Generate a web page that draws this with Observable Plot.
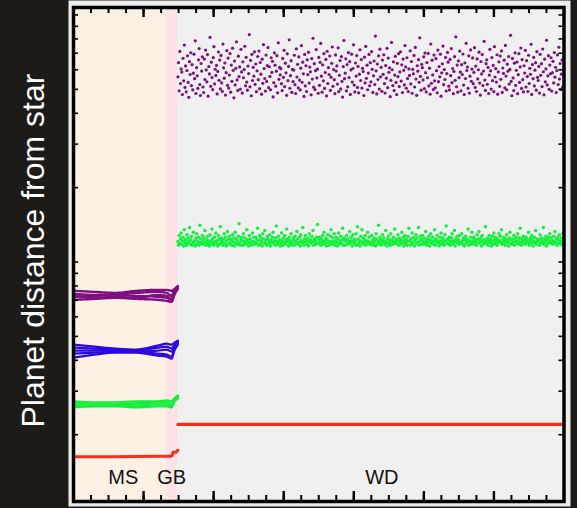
<!DOCTYPE html>
<html><head><meta charset="utf-8">
<script src="https://cdn.jsdelivr.net/npm/d3@7"></script>
<script src="https://cdn.jsdelivr.net/npm/@observablehq/plot@0.6"></script>
<style>html,body{margin:0;padding:0;background:#1e1a17;overflow:hidden;}</style>
</head><body><div id="chart"></div>
<script>
// ---- data ----
const phaseNames = ["MS", "GB", "WD"];
const phaseStarts = [0, 1.33, 1.49];
const phaseEnds = [1.33, 1.49, 7];
const labelTimes = [0.71, 1.40, 4.40];
const labelValue = 0.134;
const yTitle = "Planet distance from star";

const yTicks = [0.2,0.3,0.4,0.5,0.6,0.7,0.8,0.9,1,2,3,4,5,6,7,8,9,10];
const xMajorTicks = [0,1,2,3,4,5,6,7];

// main-sequence / giant-branch tracks (several runs per planet)
const msTimes = [0, 0.3, 0.6, 0.9, 1.2, 1.33, 1.40, 1.44, 1.49];
const msPurple = [
  [0.764,0.757,0.750,0.764,0.771,0.771,0.764,0.778,0.800],
  [0.743,0.736,0.743,0.750,0.757,0.750,0.729,0.771,0.793],
  [0.723,0.729,0.736,0.729,0.723,0.716,0.703,0.750,0.786],
  [0.703,0.709,0.716,0.709,0.703,0.696,0.690,0.736,0.778],
  [0.729,0.716,0.723,0.716,0.736,0.729,0.709,0.757,0.793]
];
const msBlue = [
  [0.4627,0.4542,0.4459,0.4417,0.4585,0.4670,0.4627,0.4714,0.4800],
  [0.4500,0.4459,0.4417,0.4377,0.4500,0.4542,0.4459,0.4627,0.4758],
  [0.4377,0.4377,0.4377,0.4336,0.4377,0.4417,0.4336,0.4542,0.4714],
  [0.4256,0.4296,0.4336,0.4336,0.4256,0.4217,0.4140,0.4459,0.4670],
  [0.4100,0.4217,0.4296,0.4296,0.4178,0.4140,0.4064,0.4377,0.4627]
];
const msGreen = [
  [0.2727,0.2702,0.2702,0.2727,0.2727,0.2752,0.2727,0.2804,0.2883],
  [0.2677,0.2677,0.2652,0.2677,0.2702,0.2702,0.2652,0.2778,0.2856],
  [0.2627,0.2627,0.2627,0.2627,0.2652,0.2652,0.2603,0.2752,0.2830],
  [0.2579,0.2603,0.2603,0.2579,0.2603,0.2603,0.2579,0.2727,0.2804]
];
const msRedTimes = [0, 0.6, 1.2, 1.38, 1.41, 1.42, 1.46, 1.49];
const msRed = [0.1628,0.1628,0.1635,0.1635,0.1650,0.1697,0.1697,0.1729];

// white-dwarf phase
const wdStart = 1.49, wdEnd = 6.99;
const wdRed = [0.22, 0.22];
const wdPurple = [
5.62,6.41,4.93,7.12,5.28,6.05,5.87,4.76,6.68,5.41,7.55,5.09,6.22,4.88,5.96,6.83,5.33,4.64,6.47,5.74,
7.03,5.18,6.29,4.97,5.81,6.94,5.52,7.86,4.81,6.12,5.67,5.04,6.58,7.31,5.23,4.72,6.36,5.93,6.77,5.11,
4.85,6.63,5.48,7.21,5.99,5.36,6.91,4.69,6.18,5.77,8.12,5.14,6.44,5.58,4.99,6.72,7.44,5.26,6.03,5.69,
6.25,4.79,5.91,7.08,5.44,6.57,5.02,6.86,5.31,4.91,7.62,6.11,5.55,6.39,4.74,5.84,7.17,5.19,6.69,5.06,
5.71,6.98,4.87,6.27,5.39,7.34,5.97,4.62,6.51,5.21,6.08,7.79,5.46,4.95,6.81,5.63,6.16,5.01,7.26,5.88,
4.83,6.46,5.57,6.01,7.47,5.17,6.74,5.35,4.96,6.21,5.79,8.33,5.12,6.55,4.71,6.93,5.43,6.14,5.66,7.09,
5.24,6.33,4.89,5.94,6.79,5.47,7.14,5.03,6.42,5.76,4.78,6.62,5.29,7.58,6.07,5.53,4.92,6.88,5.38,6.24,
7.38,5.08,6.17,5.64,4.98,6.71,5.86,6.49,4.66,5.32,7.02,6.26,5.15,5.92,6.84,4.84,7.71,5.49,6.13,5.72,
6.06,5.27,4.94,6.67,5.59,7.19,5.13,6.38,5.83,4.73,6.96,5.42,6.19,7.93,5.05,5.68,6.53,4.86,6.02,5.37,
5.98,6.87,5.22,4.81,7.29,5.61,6.31,5.07,6.76,5.45,4.97,6.09,7.51,5.34,6.44,5.78,4.68,6.92,5.16,6.23,
4.90,6.58,5.73,7.06,5.30,6.15,5.89,4.75,6.66,5.50,8.05,5.10,6.35,4.99,5.95,7.24,5.56,6.04,4.82,6.73,
5.19,6.43,7.67,5.65,4.87,6.28,5.41,6.97,5.04,5.85,6.61,4.70,7.13,5.28,6.12,5.74,6.82,4.95,5.60,6.37,
7.42,5.14,6.01,5.47,4.80,6.89,5.93,6.22,5.25,7.36,4.89,5.70,6.54,5.02,6.78,5.38,4.65,6.18,7.88,5.52,
5.81,6.65,4.93,6.30,5.12,7.04,5.58,6.47,4.77,5.99,6.94,5.35,6.07,7.57,5.20,4.88,6.39,5.66,6.85,5.09,
6.19,4.84,5.76,7.23,5.43,6.60,5.06,6.08,5.90,4.72,6.75,5.31,7.46,5.54,6.26,4.98,5.82,6.92,5.17,6.41,
5.36,7.11,6.03,4.86,5.67,6.51,5.23,8.21,5.94,4.79,6.33,5.48,6.83,5.01,7.27,5.62,6.14,4.91,6.57,5.75,
6.90,5.27,4.83,6.24,5.55,7.33,5.08,6.69,5.86,6.11,4.67,5.44,7.74,6.00,5.18,6.46,4.94,5.71,6.80,5.33,
4.76,6.37,5.63,6.97,5.13,5.88,7.09,5.40,6.28,4.85,6.63,5.97,5.21,7.52,6.16,5.05,6.71,5.53,4.90,6.05,
5.69,7.16,5.26,6.48,4.82,6.02,5.78,6.86,5.11,7.39,5.50,4.73,6.23,5.92,6.59,5.34,8.08,5.64,4.96,6.31,
6.12,5.46,6.77,5.03,7.01,5.84,4.88,6.42,5.57,6.99,5.16,6.09,4.78,7.63,5.29,6.56,5.72,4.99,6.88,5.41,
5.07,6.66,5.95,4.84,7.21,5.37,6.18,5.62,6.94,4.69,5.83,6.34,7.48,5.22,6.01,5.48,6.73,4.92,5.79,7.05,
6.44,5.15,4.97,6.61,5.68,7.31,5.32,6.07,4.80,5.91,6.78,5.44,8.16,5.12,6.27,4.87,6.52,5.58,7.14,5.87,
4.93,6.29,5.74,6.95,5.20,4.76,6.40,5.53,7.68,5.96,6.15,5.05,6.83,4.83,5.65,7.22,5.39,6.04,6.70,5.27,
5.86,7.37,5.09,6.21,4.90,6.64,5.51,6.00,7.07,5.30,4.74,6.48,5.77,6.91,5.18,5.93,7.82,5.45,4.95,6.35,
6.58,5.24,6.13,4.81,5.71,7.26,5.94,5.01,6.72,5.42,6.25,4.89,7.44,5.61,6.06,5.35,6.90,4.78,5.88,6.46,
5.14,6.82,5.49,7.15,4.86,6.10,5.80,6.56,5.07,7.53,5.66,4.98,6.32,5.92,6.79,5.25,6.02,8.27,5.38,4.71,
6.67,5.56,4.94,6.38,7.02,5.19,5.97,6.45,4.80,5.73,6.97,5.33,6.16,7.35,5.04,6.60,5.47,4.88,6.23,5.82,
7.19,5.11,6.53,5.63,4.90,6.87,5.28,6.08,5.75,7.61,4.77,6.30,5.52,6.74,5.16,5.98,6.41,4.96,7.10,5.59,
5.43,6.19,4.83,6.93,5.70,6.35,5.13,7.28,5.89,4.75,6.62,5.36,6.05,7.90,5.21,5.67,6.84,5.00,6.27,5.78,
6.71,4.92,5.84,6.49,5.31,7.04,5.60,6.14,4.85,5.95,6.89,5.23,7.40,5.50,6.36,4.99,5.76,6.57,5.10,6.03
];
const wdGreen = [
1.21,1.17,1.28,1.19,1.24,1.31,1.18,1.22,1.26,1.16,1.35,1.20,1.23,1.17,1.29,1.19,1.25,1.21,1.38,1.18,
1.23,1.27,1.17,1.20,1.32,1.19,1.22,1.16,1.25,1.30,1.18,1.21,1.26,1.17,1.41,1.20,1.24,1.19,1.28,1.22,
1.18,1.25,1.34,1.20,1.17,1.23,1.27,1.19,1.21,1.16,1.29,1.22,1.18,1.36,1.24,1.20,1.17,1.26,1.21,1.31,
1.19,1.22,1.16,1.28,1.24,1.18,1.39,1.21,1.25,1.20,1.17,1.23,1.30,1.19,1.26,1.16,1.22,1.33,1.18,1.24,
1.27,1.20,1.18,1.23,1.17,1.29,1.21,1.25,1.16,1.32,1.19,1.24,1.22,1.18,1.27,1.43,1.20,1.17,1.23,1.26,
1.22,1.17,1.30,1.19,1.25,1.21,1.18,1.35,1.23,1.20,1.16,1.28,1.24,1.19,1.22,1.17,1.31,1.21,1.26,1.18,
1.20,1.26,1.19,1.23,1.37,1.17,1.22,1.28,1.18,1.25,1.21,1.16,1.30,1.24,1.19,1.34,1.20,1.23,1.17,1.27,
1.24,1.18,1.21,1.29,1.16,1.23,1.20,1.26,1.32,1.19,1.22,1.17,1.25,1.40,1.21,1.18,1.27,1.20,1.23,1.16,
1.19,1.31,1.22,1.17,1.25,1.20,1.28,1.18,1.23,1.36,1.21,1.24,1.16,1.26,1.19,1.22,1.30,1.17,1.20,1.25,
1.23,1.17,1.27,1.21,1.19,1.33,1.24,1.18,1.20,1.26,1.16,1.29,1.22,1.19,1.38,1.21,1.17,1.24,1.28,1.20,
1.18,1.22,1.25,1.16,1.30,1.20,1.23,1.19,1.27,1.21,1.34,1.17,1.24,1.20,1.22,1.18,1.26,1.42,1.19,1.23,
1.26,1.20,1.17,1.24,1.21,1.28,1.18,1.32,1.22,1.19,1.25,1.16,1.23,1.29,1.20,1.17,1.21,1.27,1.35,1.18,
1.21,1.25,1.19,1.30,1.17,1.22,1.26,1.20,1.16,1.24,1.31,1.18,1.21,1.27,1.19,1.23,1.37,1.17,1.25,1.22,
1.17,1.23,1.28,1.20,1.24,1.18,1.21,1.33,1.19,1.26,1.22,1.16,1.29,1.20,1.24,1.18,1.22,1.30,1.17,1.39,
1.24,1.19,1.22,1.16,1.27,1.21,1.35,1.18,1.25,1.20,1.23,1.28,1.17,1.22,1.19,1.32,1.21,1.26,1.18,1.20,
1.20,1.28,1.17,1.23,1.19,1.25,1.22,1.16,1.30,1.24,1.18,1.21,1.41,1.19,1.26,1.23,1.17,1.20,1.29,1.22,
1.25,1.18,1.21,1.34,1.20,1.16,1.24,1.27,1.19,1.22,1.17,1.30,1.23,1.20,1.18,1.26,1.21,1.36,1.19,1.24,
1.19,1.22,1.29,1.17,1.25,1.21,1.18,1.23,1.32,1.20,1.26,1.16,1.22,1.28,1.19,1.24,1.17,1.21,1.27,1.37,
1.22,1.17,1.24,1.20,1.31,1.18,1.26,1.21,1.16,1.23,1.29,1.19,1.25,1.20,1.38,1.17,1.22,1.27,1.18,1.24,
1.28,1.21,1.18,1.25,1.19,1.33,1.22,1.17,1.24,1.20,1.27,1.16,1.23,1.30,1.19,1.21,1.26,1.18,1.22,1.35,
1.17,1.24,1.20,1.28,1.22,1.19,1.16,1.26,1.21,1.31,1.18,1.23,1.25,1.20,1.17,1.29,1.22,1.40,1.19,1.24,
1.23,1.19,1.26,1.17,1.21,1.25,1.30,1.18,1.22,1.20,1.34,1.16,1.24,1.21,1.27,1.19,1.23,1.18,1.28,1.20,
1.20,1.30,1.22,1.18,1.25,1.16,1.23,1.27,1.19,1.21,1.24,1.36,1.17,1.22,1.20,1.26,1.18,1.32,1.21,1.25,
1.26,1.18,1.21,1.23,1.17,1.29,1.20,1.24,1.33,1.19,1.22,1.25,1.16,1.28,1.21,1.18,1.23,1.20,1.39,1.22,
1.19,1.25,1.17,1.22,1.28,1.20,1.24,1.16,1.21,1.27,1.18,1.31,1.23,1.19,1.26,1.21,1.17,1.24,1.20,1.30,
1.22,1.27,1.20,1.35,1.18,1.23,1.19,1.26,1.21,1.17,1.24,1.29,1.20,1.22,1.16,1.25,1.32,1.19,1.23,1.18,
1.24,1.20,1.28,1.17,1.23,1.21,1.26,1.19,1.30,1.22,1.18,1.25,1.37,1.20,1.17,1.24,1.21,1.27,1.19,1.23,
1.18,1.26,1.21,1.24,1.20,1.32,1.17,1.22,1.25,1.19,1.28,1.23,1.16,1.21,1.26,1.20,1.34,1.18,1.24,1.22,
1.21,1.23,1.17,1.29,1.19,1.25,1.22,1.20,1.38,1.18,1.24,1.21,1.27,1.16,1.23,1.19,1.26,1.22,1.30,1.20,
1.25,1.19,1.22,1.18,1.27,1.21,1.33,1.20,1.24,1.17,1.26,1.23,1.19,1.29,1.21,1.18,1.25,1.22,1.20,1.31
];

// ---- styles ----
const phaseFill = {MS: "#fdf1e5", GB: "#fde3e3", WD: "#f0f0f0"};
const C = {purple: "#7f0f80", blue: "#2a08e0", green: "#14f03c", red: "#f2301e"};
const W = 577, H = 508;
const M = {top: 7, right: 13.5, bottom: 7, left: 73};
const innerW = W - M.left - M.right, innerH = H - M.top - M.bottom;
const yDomain = [0.1073, 10.72];

// ---- build rows ----
const phases = phaseNames.map((name, i) => ({name, start: phaseStarts[i], end: phaseEnds[i]}));
const labels = phaseNames.map((name, i) => ({name, t: labelTimes[i], v: labelValue}));
const tracks = (times, sets, key) => sets.flatMap((vals, k) => vals.map((v, i) => ({t: times[i], v, run: key + k})));
const purpleRows = tracks(msTimes, msPurple, "p");
const blueRows = tracks(msTimes, msBlue, "b");
const greenRows = tracks(msTimes, msGreen, "g");
const redRows = msRed.map((v, i) => ({t: msRedTimes[i], v}));
const wdRedRows = wdRed.map((v, i) => ({t: i === 0 ? wdStart : 7, v}));
const sampleTime = (i, n) => wdStart + (wdEnd - wdStart) * i / (n - 1);
const wdPurpleRows = wdPurple.map((v, i) => ({t: sampleTime(i, wdPurple.length), v}));
const wdGreenRows = wdGreen.map((v, i) => ({t: sampleTime(i, wdGreen.length), v}));
const xMinorTicks = d3.range(0, 7.001, 0.25);

const font = "Liberation Sans, Arial, Helvetica, sans-serif";
const chart = Plot.plot({
  width: W, height: H,
  marginTop: M.top, marginRight: M.right, marginBottom: M.bottom, marginLeft: M.left,
  x: {domain: [0, 7], axis: null},
  y: {type: "log", domain: yDomain, axis: null},
  color: {type: "identity"},
  style: {background: "#1e1a17", overflow: "visible"},
  marks: [
    Plot.frame({fill: "#ececec", insetLeft: -5, insetRight: -6.5, insetTop: -7, insetBottom: -5}),
    Plot.rect(phases, {x1: "start", x2: "end", y1: () => yDomain[0], y2: () => yDomain[1], fill: d => phaseFill[d.name]}),
    Plot.line(purpleRows, {x: "t", y: "v", z: "run", stroke: C.purple, strokeWidth: 2.4, strokeDasharray: "2,1", curve: "monotone-x"}),
    Plot.line(blueRows, {x: "t", y: "v", z: "run", stroke: C.blue, strokeWidth: 2.2, curve: "monotone-x"}),
    Plot.line(greenRows, {x: "t", y: "v", z: "run", stroke: C.green, strokeWidth: 2.4, curve: "monotone-x"}),
    Plot.line(redRows, {x: "t", y: "v", stroke: C.red, strokeWidth: 3}),
    Plot.line(wdRedRows, {x: "t", y: "v", stroke: C.red, strokeWidth: 3.2}),
    Plot.dot(wdGreenRows, {x: "t", y: "v", r: 1.75, fill: C.green, stroke: "none"}),
    Plot.dot(wdPurpleRows, {x: "t", y: "v", r: 1.6, fill: C.purple, stroke: "none"}),
    // inside ticks
    Plot.tickX(xMinorTicks, {x: d => d, stroke: "black", strokeWidth: 2, insetTop: innerH - 6}),
    Plot.tickX(xMinorTicks, {x: d => d, stroke: "black", strokeWidth: 2, insetBottom: innerH - 6}),
    Plot.tickX(xMajorTicks, {x: d => d, stroke: "black", strokeWidth: 2.4, insetTop: innerH - 10}),
    Plot.tickX(xMajorTicks, {x: d => d, stroke: "black", strokeWidth: 2.4, insetBottom: innerH - 10}),
    Plot.tickY(yTicks, {y: d => d, stroke: "black", strokeWidth: 1.6, insetRight: innerW - 5}),
    Plot.tickY(yTicks, {y: d => d, stroke: "black", strokeWidth: 1.6, insetLeft: innerW - 5}),
    Plot.frame({stroke: "black", strokeWidth: 3.5}),
    Plot.text(labels, {x: "t", y: "v", text: "name", fontSize: 20, fontFamily: "Liberation Sans Narrow, Arial Narrow, " + font, fill: "#111"}),
    Plot.text([yTitle], {frameAnchor: "left", textAnchor: "middle", text: d => d, rotate: -90, dx: -40, dy: -4, fill: "white", fontSize: 32, fontFamily: font})
  ]
});
document.getElementById("chart").appendChild(chart);
</script>
</body></html>
